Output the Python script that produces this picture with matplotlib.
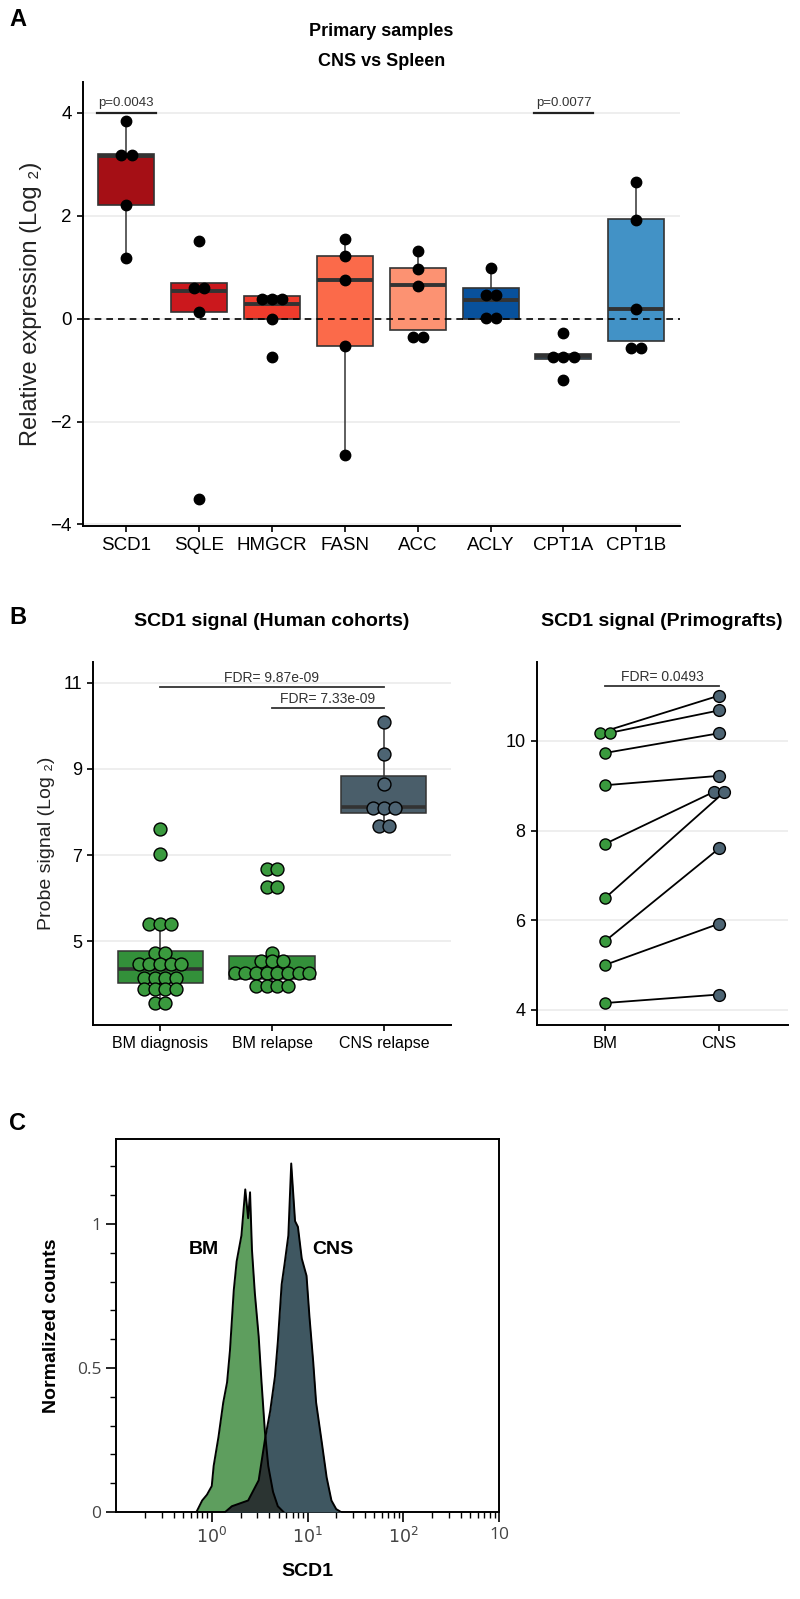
import numpy as np
import matplotlib
matplotlib.use("Agg")
import matplotlib.pyplot as plt

plt.rcParams['font.family'] = ['Liberation Sans', 'DejaVu Sans']
NARROW = ['Liberation Sans Narrow', 'Liberation Sans', 'DejaVu Sans']

# ---------------- panel A data ----------------
genes = ['SCD1', 'SQLE', 'HMGCR', 'FASN', 'ACC', 'ACLY', 'CPT1A', 'CPT1B']
gene_colors = ['#a50f15', '#cb181d', '#ef3b2c', '#fb6a4a', '#fc9272',
               '#08519c', '#3182bd', '#4292c6']
a_q1 = [2.20, 0.13, 0.00, -0.53, -0.23, 0.00, -0.79, -0.44]
a_med = [3.17, 0.53, 0.29, 0.75, 0.65, 0.36, -0.73, 0.18]
a_q3 = [3.20, 0.69, 0.45, 1.21, 0.98, 0.59, -0.69, 1.94]
a_whislo = [1.18, 0.13, 0.00, -2.65, -0.23, 0.00, -0.79, -0.44]
a_whishi = [3.85, 0.69, 0.45, 1.55, 1.32, 0.99, -0.69, 2.66]
a_points = [
    [3.85, 3.18, 3.18, 2.21, 1.18],
    [1.50, 0.59, 0.59, 0.13, -3.51],
    [0.38, 0.38, 0.38, 0.00, -0.75],
    [1.55, 1.21, 0.75, -0.53, -2.65],
    [1.32, 0.97, 0.64, -0.36, -0.36],
    [0.99, 0.46, 0.46, 0.01, 0.01],
    [-0.27, -0.75, -0.75, -0.75, -1.19],
    [2.66, 1.92, 0.18, -0.57, -0.57],
]

# ---------------- panel B (cohorts) data ----------------
cohorts = ['BM diagnosis', 'BM relapse', 'CNS relapse']
cohort_colors = ['#33903a', '#33903a', '#4a5e6a']
cohort_dot_colors = ['#3a9a3e', '#3a9a3e', '#4d6473']
b_q1 = [4.04, 4.13, 7.98]
b_med = [4.36, 4.27, 8.12]
b_q3 = [4.77, 4.67, 8.84]
b_whislo = [3.58, 3.96, 7.68]
b_whishi = [5.41, 4.74, 10.09]
bm_diag = [7.60, 7.02, 5.41, 5.41, 5.41, 4.74, 4.74,
           4.47, 4.47, 4.47, 4.47, 4.47, 4.16, 4.16, 4.16, 4.16,
           3.89, 3.89, 3.89, 3.89, 3.58, 3.58]
bm_rel = [6.68, 6.68, 6.27, 6.27, 4.74, 4.55, 4.55, 4.55,
          4.27, 4.27, 4.27, 4.27, 4.27, 4.27, 4.27, 4.27,
          3.96, 3.96, 3.96, 3.96]
cns_rel = [10.09, 9.35, 8.66, 8.10, 8.10, 8.10, 7.68, 7.68]

# ---------------- panel B (primografts) data ----------------
pdx_groups = ['BM', 'CNS']
pdx_bm = [10.18, 10.18, 9.73, 9.01, 7.70, 6.49, 5.53, 5.00, 4.15]
pdx_cns = [11.01, 10.68, 10.17, 9.22, 8.86, 8.86, 7.60, 5.92, 4.34]

# ---------------- panel C data (flow histograms) ----------------
bm_log10 = [-0.16, -0.10, -0.05, 0.00, 0.02, 0.07, 0.12, 0.16, 0.19, 0.23,
            0.26, 0.31, 0.35, 0.38, 0.40, 0.42, 0.45, 0.49, 0.52, 0.555,
            0.59, 0.64, 0.69, 0.75]
bm_counts = [0.00, 0.04, 0.06, 0.09, 0.16, 0.26, 0.38, 0.45, 0.56, 0.77,
             0.87, 0.96, 1.12, 1.02, 1.11, 0.91, 0.76, 0.61, 0.45, 0.28,
             0.16, 0.07, 0.02, 0.00]
cns_log10 = [0.14, 0.21, 0.38, 0.49, 0.555, 0.61, 0.66, 0.69, 0.73, 0.76,
             0.80, 0.83, 0.87, 0.90, 0.94, 0.99, 1.02, 1.06, 1.09, 1.15,
             1.20, 1.25, 1.30, 1.35]
cns_counts = [0.00, 0.02, 0.04, 0.11, 0.25, 0.35, 0.47, 0.59, 0.79, 0.86,
              0.96, 1.21, 1.01, 0.99, 0.88, 0.82, 0.68, 0.52, 0.38, 0.24,
              0.12, 0.04, 0.01, 0.00]


def stack_offsets(vals, step):
    # spread equal values side by side, like a dotplot
    offs = []
    for i, v in enumerate(vals):
        same = [j for j, w in enumerate(vals) if w == v]
        offs.append((same.index(i) - (len(same) - 1) / 2) * step)
    return np.array(offs)


W, H = 800, 1599
fig = plt.figure(figsize=(8, 15.99), dpi=100)


def axes_px(left, top, right, bottom):
    return fig.add_axes([left / W, 1 - bottom / H, (right - left) / W, (bottom - top) / H])


def box_stats(q1, med, q3, lo, hi):
    return [dict(q1=a, med=b, q3=c, whislo=d, whishi=e, fliers=[])
            for a, b, c, d, e in zip(q1, med, q3, lo, hi)]


def style_gg(ax):
    for s in ['top', 'right']:
        ax.spines[s].set_visible(False)
    for s in ['left', 'bottom']:
        ax.spines[s].set_linewidth(1.4)
    ax.yaxis.grid(True, color='#ebebeb', lw=1.2)
    ax.set_axisbelow(True)
    ax.tick_params(length=4.5, width=1.2, color='black')


# ================= Panel A =================
axA = axes_px(82.7, 82, 680, 526)
style_gg(axA)
posA = np.arange(len(genes))
bp = axA.bxp(box_stats(a_q1, a_med, a_q3, a_whislo, a_whishi), positions=posA,
             widths=0.77, patch_artist=True, showcaps=False,
             boxprops=dict(edgecolor='#333333', lw=1.2),
             whiskerprops=dict(color='#333333', lw=1.1),
             medianprops=dict(color='#333333', lw=2.8))
for patch, c in zip(bp['boxes'], gene_colors):
    patch.set_facecolor(c)
for i, pts in enumerate(a_points):
    axA.plot(posA[i] + stack_offsets(pts, 0.14), pts, 'o', color='black',
             ms=7.5, zorder=4)
axA.axhline(0, color='black', lw=1.2, ls=(0, (4, 3)), zorder=3)
axA.set_xlim(-0.6, 7.6)
axA.set_ylim(-4.03, 4.6)
axA.set_yticks([-4, -2, 0, 2, 4])
axA.set_xticks(posA)
axA.set_xticklabels(genes, family=NARROW, fontsize=13.5)
for t in axA.get_yticklabels():
    t.set_family(NARROW)
    t.set_fontsize(13.5)
axA.set_ylabel('Relative expression (Log ₂)', fontsize=17, labelpad=6, color='#222222')
# significance brackets
for i, ptxt in [(0, 'p=0.0043'), (6, 'p=0.0077')]:
    axA.plot([i - 0.4, i + 0.4], [4.0, 4.0], color='#222222', lw=1.6)
    axA.text(i, 4.08, ptxt, ha='center', va='bottom', fontsize=9.5,
             family=NARROW, color='#333333')
fig.text((82.7 + 680) / 2 / W, 1 - 31.5 / H, 'Primary samples', ha='center', va='center',
         fontsize=13, fontweight='bold', family=NARROW)
fig.text((82.7 + 680) / 2 / W, 1 - 61 / H, 'CNS vs Spleen', ha='center', va='center',
         fontsize=13, fontweight='bold', family=NARROW)

# ================= Panel B left =================
axB = axes_px(93, 662, 451, 1025)
style_gg(axB)
posB = np.arange(len(cohorts))
bpB = axB.bxp(box_stats(b_q1, b_med, b_q3, b_whislo, b_whishi), positions=posB,
              widths=0.76, patch_artist=True, showcaps=False,
              boxprops=dict(edgecolor='#333333', lw=1.1),
              whiskerprops=dict(color='#333333', lw=1.1),
              medianprops=dict(color='#333333', lw=2.6))
for patch, c in zip(bpB['boxes'], cohort_colors):
    patch.set_facecolor(c)
for i, vals in enumerate([bm_diag, bm_rel, cns_rel]):
    axB.plot(posB[i] + stack_offsets(vals, 0.095), vals, 'o',
             mfc=cohort_dot_colors[i], mec='black', mew=1.0, ms=9.3, zorder=4)
axB.set_xlim(-0.6, 2.6)
axB.set_ylim(3.06, 11.48)
axB.set_yticks([5, 7, 9, 11])
axB.set_xticks(posB)
axB.set_xticklabels(cohorts, fontsize=11.5)
axB.tick_params(axis='y', labelsize=13)
axB.set_ylabel('Probe signal (Log ₂)', fontsize=14, labelpad=6, color='#222222')
for x0, x1, y, lab in [(0, 2, 10.9, 'FDR= 9.87e-09'), (1, 2, 10.41, 'FDR= 7.33e-09')]:
    axB.plot([x0, x1], [y, y], color='#333333', lw=1.3)
    axB.text((x0 + x1) / 2, y + 0.05, lab, ha='center', va='bottom', fontsize=10,
             color='#333333')
axB.set_title('SCD1 signal (Human cohorts)', fontsize=14, fontweight='bold', pad=26)

# ================= Panel B right =================
axP = axes_px(536.5, 662, 787.5, 1025)
style_gg(axP)
posP = np.arange(len(pdx_groups))
xb = posP[0] + stack_offsets(pdx_bm, 0.088)
xc = posP[1] + stack_offsets(pdx_cns, 0.094)
for x0, y0, x1, y1 in zip(xb, pdx_bm, xc, pdx_cns):
    axP.plot([x0, x1], [y0, y1], color='black', lw=1.3, zorder=3)
axP.plot(xb, pdx_bm, 'o', mfc='#3a9a3e', mec='black', mew=1.0, ms=8, zorder=4)
axP.plot(xc, pdx_cns, 'o', mfc='#4d6473', mec='black', mew=1.0, ms=8.5, zorder=4)
axP.set_xlim(-0.6, 1.6)
axP.set_ylim(3.66, 11.76)
axP.set_yticks([4, 6, 8, 10])
axP.set_xticks(posP)
axP.set_xticklabels(pdx_groups, fontsize=12)
axP.tick_params(axis='y', labelsize=13)
axP.plot([0, 1], [11.22, 11.22], color='#333333', lw=1.3)
axP.text(0.5, 11.27, 'FDR= 0.0493', ha='center', va='bottom', fontsize=10, color='#333333')
axP.set_title('SCD1 signal (Primografts)', fontsize=14, fontweight='bold', pad=26)

# ================= Panel C =================
axC = axes_px(116, 1139, 499, 1512)
bm_x = 10 ** np.array(bm_log10)
cns_x = 10 ** np.array(cns_log10)
axC.fill_between(bm_x, bm_counts, color='#5e9e5e', lw=0, zorder=2)
cns_fill = axC.fill_between(cns_x, cns_counts, color='#3f5761', lw=0, zorder=3)
overlap = axC.fill_between(bm_x, bm_counts, color='#2b3432', lw=0, zorder=4)
overlap.set_clip_path(cns_fill.get_paths()[0], axC.transData)
axC.plot(bm_x, bm_counts, color='black', lw=1.4, zorder=5)
axC.plot(cns_x, cns_counts, color='black', lw=1.4, zorder=5)
axC.set_xscale('log')
axC.set_xlim(0.1, 1000)
axC.set_ylim(0, 1.295)
axC.set_xticks([1, 10, 100, 1000])
axC.set_xticklabels(['$10^0$', '$10^1$', '$10^2$', '10'])
axC.set_yticks([0, 0.5, 1])
axC.set_yticklabels(['0', '0.5', '1'])
axC.set_yticks(np.arange(0, 1.25, 0.1), minor=True)
axC.tick_params(which='major', length=7, width=1.2, labelsize=12.5, labelcolor='#444444')
axC.tick_params(which='minor', length=4, width=1.0)
for t in axC.get_xticklabels() + axC.get_yticklabels():
    t.set_family(['Open Sans', 'DejaVu Sans'])
for s in axC.spines.values():
    s.set_linewidth(1.4)
axC.text(0.82, 0.91, 'BM', ha='center', va='center', fontsize=14, fontweight='bold', zorder=6)
axC.text(18.5, 0.91, 'CNS', ha='center', va='center', fontsize=14, fontweight='bold', zorder=6)
axC.set_ylabel('Normalized counts', fontsize=14, fontweight='bold', labelpad=12)
axC.set_xlabel('SCD1', fontsize=14, fontweight='bold', labelpad=12)

# panel letters
for lab, y in [('A', 19), ('B', 618), ('C', 1123)]:
    fig.text(18 / W, 1 - y / H, lab, ha='center', va='center', fontsize=17, fontweight='bold')

fig.savefig('out.png', dpi=100)
